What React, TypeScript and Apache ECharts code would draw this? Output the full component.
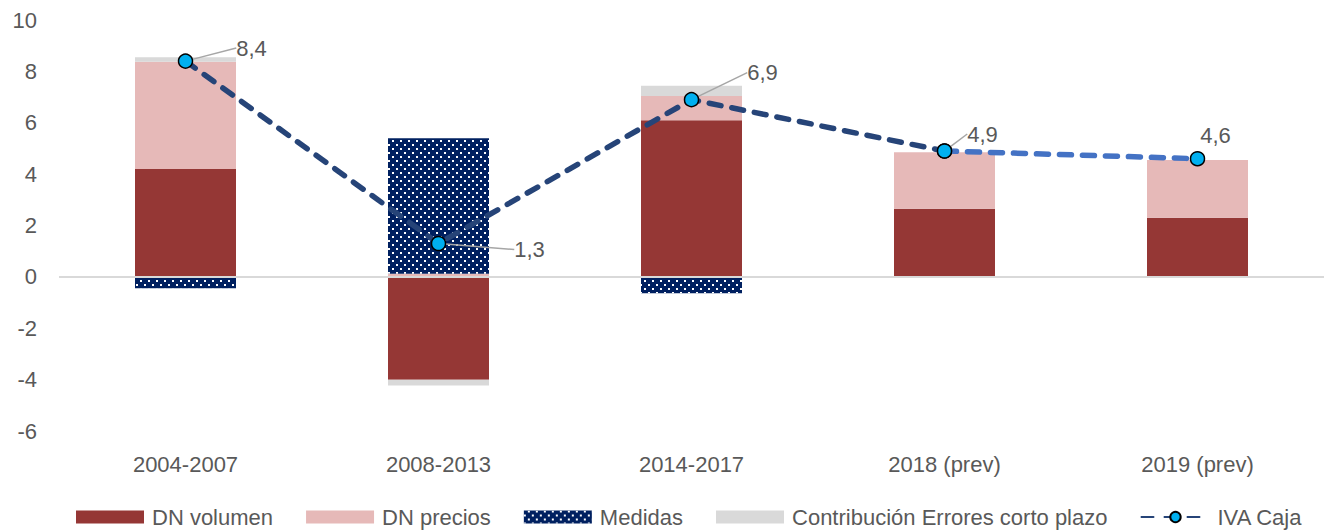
import React, { useEffect, useRef } from "react";
import * as echarts from "echarts";

const categories = ["2004-2007", "2008-2013", "2014-2017", "2018 (prev)", "2019 (prev)"];
const dnVolumen = [4.2, -4.0, 6.1, 2.65, 2.3];
const dnPrecios = [4.17, 0.12, 0.94, 2.2, 2.25];
const medidas = [-0.44, 5.28, -0.64, 0, 0];
const errores = [0.18, -0.23, 0.4, 0, 0];
const ivaCaja = [8.4, 1.3, 6.9, 4.9, 4.6];
const yTicks = { min: -6, max: 10, interval: 2 };

const FONT = "'Liberation Sans', Arial, sans-serif";
const GREY = "#595959";
const FS = 22;

const labelOffsets = [
  { dx: 38, dy: -13 },
  { dx: 63, dy: 6 },
  { dx: 43, dy: -27 },
  { dx: 10, dy: -17 },
  { dx: -10, dy: -23 },
];

export default function App() {
  const ref = useRef<HTMLDivElement>(null);
  useEffect(() => {
    if (!ref.current) return;
    const chart = echarts.init(ref.current, null, { renderer: "svg" });
    const fmt = (p: any) => String(p.value).replace(".", ",");
    const lineLabel = {
      show: true,
      position: "right",
      formatter: fmt,
      color: GREY,
      fontSize: FS,
      fontFamily: FONT,
    };
    const lineLabelLine = { show: true, lineStyle: { color: "#A6A6A6", width: 1.5 } };
    const seriesA = ivaCaja.map((v, i) =>
      i <= 3 ? { value: v, label: { show: true }, labelLine: { show: true } } : "-"
    );
    const seriesB = ivaCaja.map((v, i) =>
      i >= 3 ? { value: v, label: { show: i === 4 }, labelLine: { show: false } } : "-"
    );
    const option: any = {
      animation: false,
      textStyle: { fontFamily: FONT },
      grid: { left: 59, top: 20, width: 1268, height: 411, containLabel: false },
      legend: {
        left: 76,
        top: 506,
        padding: 0,
        width: 1300,
        itemWidth: 68,
        itemHeight: 13,
        itemGap: 33,
        textStyle: { color: GREY, fontSize: FS, fontFamily: FONT, padding: [0, 0, 0, 3] },
        data: [
          { name: "DN volumen", icon: "rect" },
          { name: "DN precios", icon: "rect" },
          { name: "Medidas", icon: "rect" },
          { name: "Contribución Errores corto plazo", icon: "rect" },
          { name: "IVA Caja" },
        ],
      },
      xAxis: {
        type: "category",
        data: categories,
        axisLine: { show: false },
        axisTick: { show: false },
        axisLabel: { color: GREY, fontSize: FS, fontFamily: FONT, margin: 22 },
      },
      yAxis: {
        type: "value",
        min: yTicks.min,
        max: yTicks.max,
        interval: yTicks.interval,
        axisLine: { show: false },
        axisTick: { show: false },
        splitLine: { show: false },
        axisLabel: { color: GREY, fontSize: FS, fontFamily: FONT, margin: 22 },
      },
      series: [
        {
          name: "DN volumen",
          type: "bar",
          stack: "total",
          barWidth: 101,
          data: dnVolumen,
          itemStyle: { color: "#953735" },
          markLine: {
            silent: true,
            symbol: ["none", "none"],
            label: { show: false },
            lineStyle: { color: "#D9D9D9", width: 2, type: "solid" },
            data: [{ yAxis: 0 }],
          },
        },
        {
          name: "DN precios",
          type: "bar",
          stack: "total",
          barWidth: 101,
          data: dnPrecios,
          itemStyle: { color: "#E6B9B8" },
        },
        {
          name: "Medidas",
          type: "bar",
          stack: "total",
          barWidth: 101,
          data: medidas,
          itemStyle: {
            color: "#002060",
            decal: {
              symbol: "rect",
              symbolSize: 1,
              color: "#ffffff",
              dashArrayX: [[2, 6], [0, 4, 2, 2]],
              dashArrayY: [2, 2],
            },
          },
        },
        {
          name: "Contribución Errores corto plazo",
          type: "bar",
          stack: "total",
          barWidth: 101,
          data: errores,
          itemStyle: { color: "#D9D9D9" },
        },
        {
          name: "IVA Caja",
          type: "line",
          z: 5,
          data: seriesA,
          symbol: "circle",
          symbolSize: 14,
          itemStyle: { color: "#00B0F0", borderColor: "#000000", borderWidth: 1.5 },
          lineStyle: { color: "#264478", width: 5.5, type: [12, 11], cap: "round" },
          label: lineLabel,
          labelLine: lineLabelLine,
          labelLayout: (p: any) => labelOffsets[p.dataIndex] || {},
        },
        {
          name: "IVA Caja prev",
          type: "line",
          z: 4,
          data: seriesB,
          symbol: "circle",
          symbolSize: 14,
          itemStyle: { color: "#00B0F0", borderColor: "#000000", borderWidth: 1.5 },
          lineStyle: { color: "#4472C4", width: 5.5, type: [12, 11], cap: "round" },
          label: lineLabel,
          labelLayout: (p: any) => labelOffsets[p.dataIndex] || {},
        },
      ],
    };
    chart.setOption(option);
    return () => chart.dispose();
  }, []);
  return (
    <div
      ref={ref}
      style={{ position: "fixed", left: 0, top: 0, width: 1324, height: 532, background: "#fff" }}
    />
  );
}
